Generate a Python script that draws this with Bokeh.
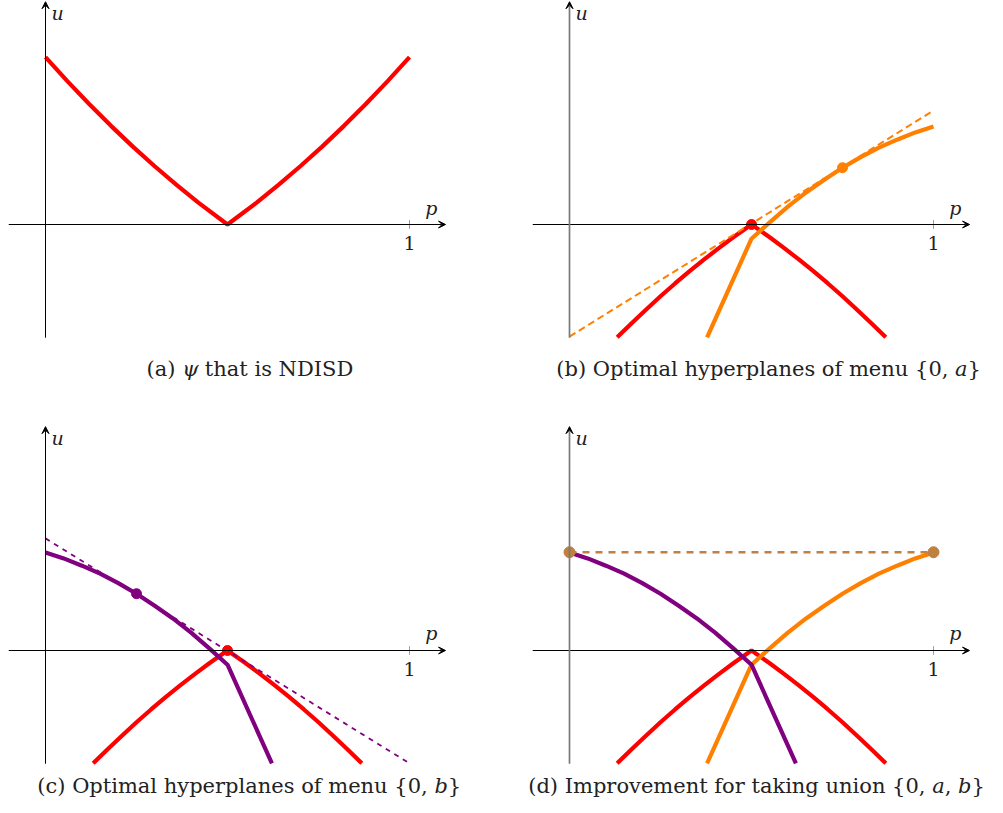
from bokeh.plotting import figure
from bokeh.models import Range1d, Arrow, VeeHead, Label
from bokeh.layouts import column, row
from bokeh.embed import file_html
from bokeh.resources import INLINE

# ---------------- data ----------------
psi_p = [0.0, 0.06, 0.12, 0.18, 0.24, 0.30, 0.36, 0.42, 0.5, 0.58, 0.64, 0.70, 0.76, 0.82, 0.88, 0.94, 1.0]
psi_u = [0.46, 0.394, 0.331, 0.271, 0.214, 0.160, 0.109, 0.060, 0.0, 0.060, 0.109, 0.160, 0.214, 0.271, 0.331, 0.394, 0.46]

red_p = [0.131, 0.17, 0.21, 0.25, 0.29, 0.33, 0.37, 0.41, 0.45, 0.5,
         0.55, 0.59, 0.63, 0.67, 0.71, 0.75, 0.79, 0.83, 0.869]
red_u = [-0.310, -0.272, -0.234, -0.197, -0.162, -0.128, -0.096, -0.065, -0.035, 0.0,
         -0.035, -0.065, -0.096, -0.128, -0.162, -0.197, -0.234, -0.272, -0.310]

orange_p = [0.378, 0.5, 0.55, 0.60, 0.65, 0.70, 0.75, 0.80, 0.85, 0.90, 0.95, 1.0]
orange_u = [-0.310, -0.039, 0.006, 0.049, 0.088, 0.123, 0.156, 0.185, 0.211, 0.233, 0.253, 0.269]

purple_p = [0.0, 0.05, 0.10, 0.15, 0.20, 0.25, 0.30, 0.35, 0.40, 0.45, 0.5, 0.622]
purple_u = [0.269, 0.253, 0.233, 0.211, 0.185, 0.156, 0.123, 0.088, 0.049, 0.006, -0.039, -0.310]

tangent_a_p = [0.0, 1.0]
tangent_a_u = [-0.308, 0.313]
tangent_b_p = [0.0, 1.0]
tangent_b_u = [0.308, -0.310]
union_p = [0.0, 1.0]
union_u = [0.27, 0.27]

red_dot = ([0.5], [0.0])
orange_dot = ([0.75], [0.156])
purple_dot = ([0.25], [0.156])

# caption pieces: (text, italic)
caption_a = [("(a)", False), ("\u03c8", True), ("that is NDISD", False)]
caption_b = [("(b) Optimal hyperplanes of menu {0,", False), ("a", True), ("}", False)]
caption_c = [("(c) Optimal hyperplanes of menu {0,", False), ("b", True), ("}", False)]
caption_d = [("(d) Improvement for taking union {0,", False), ("a", True), (",", False),
             ("b", True), ("}", False)]

# ---------------- styling ----------------
RED = "#ff0000"
ORANGE = "#ff8000"
PURPLE = "#800080"
BROWN = "#bf8040"
SERIF = "DejaVu Serif"
S = 364.0           # pixels per unit
X0 = -45.0 / S      # left edge of every panel (origin 45 px in)
LW = 4.2
CAP_PX = 21
# approximate advance widths (px) of the small caption pieces at CAP_PX
W = {"sp": 6.7, "a": 12.5, "b": 13.4, ",": 6.7, "}": 10.7, "\u03c8": 16.0}


def make_panel(width, height, top_px, ytop, uy, py):
    f = figure(width=width, height=height,
               x_range=Range1d(X0, X0 + width / S),
               y_range=Range1d((top_px - height) / S, top_px / S),
               output_backend="svg", toolbar_location=None,
               x_axis_type=None, y_axis_type=None, min_border=0)
    f.outline_line_color = None
    f.background_fill_color = "white"
    f.border_fill_color = "white"
    f._ytop = ytop
    f.add_layout(Label(x=0.033, y=uy, text="u", text_align="center", text_baseline="middle",
                       text_font=SERIF, text_font_style="italic", text_font_size="19px",
                       text_color="#222222"))
    f.add_layout(Label(x=1.06, y=py, text="p", text_align="center", text_baseline="middle",
                       text_font=SERIF, text_font_style="italic", text_font_size="19px",
                       text_color="#222222"))
    f.add_layout(Label(x=1.0, y=-0.052, text="1", text_align="center", text_baseline="middle",
                       text_font=SERIF, text_font_size="19px", text_color="#222222"))
    return f


def axes(f, gray_yaxis):
    ybot = -0.311
    f.add_layout(Arrow(x_start=-0.101, y_start=0, x_end=1.099, y_end=0,
                       line_width=1, line_color="black",
                       end=VeeHead(size=7, line_width=1, line_color="black", fill_color="black")))
    f.add_layout(Arrow(x_start=0, y_start=ybot, x_end=0, y_end=f._ytop,
                       line_width=1.7 if gray_yaxis else 1,
                       line_color="#7a7a7a" if gray_yaxis else "black",
                       end=VeeHead(size=7, line_width=1, line_color="black", fill_color="black")))
    f.segment(x0=[1.0], y0=[-0.012], x1=[1.0], y1=[0.012], line_color="#888888", line_width=0.8)


def caption(f, anchor_p, y, pieces):
    # first piece right-aligned at the anchor, the rest left-aligned after it
    off = 0.0
    for i, (txt, ital) in enumerate(pieces):
        if i == 0:
            align, xo = "right", 0.0
        else:
            if txt not in (",", "}"):
                off += W["sp"]
            align, xo = "left", off
            off += W.get(txt, 0.0)
        f.add_layout(Label(x=anchor_p, y=y, x_offset=xo, text=txt, text_align=align,
                           text_baseline="middle", text_font=SERIF,
                           text_font_style="italic" if ital else "normal",
                           text_font_size=f"{CAP_PX}px", text_color="#222222"))


# row 1: 425 px high, origin 224 px below its top; row 2: 372 px high, origin 225 px below its top
fa = make_panel(524, 425, 224, 0.612, 0.582, 0.044)
fb = make_panel(463, 425, 224, 0.612, 0.582, 0.044)
fc = make_panel(524, 372, 225, 0.615, 0.585, 0.047)
fd = make_panel(463, 372, 225, 0.615, 0.585, 0.047)

# (a) psi
axes(fa, False)
fa.line(psi_p, psi_u, line_color=RED, line_width=LW)

# (b) menu {0, a}
axes(fb, True)
fb.line(red_p, red_u, line_color=RED, line_width=LW)
fb.line(orange_p, orange_u, line_color=ORANGE, line_width=LW)
fb.line(tangent_a_p, tangent_a_u, line_color=ORANGE, line_width=2, line_dash="7 4")
fb.scatter(red_dot[0], red_dot[1], size=10, color=RED)
fb.scatter(orange_dot[0], orange_dot[1], size=10, color=ORANGE)

# (c) menu {0, b}
axes(fc, False)
fc.line(red_p, red_u, line_color=RED, line_width=LW)
fc.line(purple_p, purple_u, line_color=PURPLE, line_width=LW)
fc.line(tangent_b_p, tangent_b_u, line_color=PURPLE, line_width=1.8, line_dash="5 5")
fc.scatter(red_dot[0], red_dot[1], size=10, color=RED)
fc.scatter(purple_dot[0], purple_dot[1], size=10, color=PURPLE)

# (d) union {0, a, b}
axes(fd, True)
fd.line(red_p, red_u, line_color=RED, line_width=LW)
fd.line(orange_p, orange_u, line_color=ORANGE, line_width=LW)
fd.line(purple_p, purple_u, line_color=PURPLE, line_width=LW)
fd.line(union_p, union_u, line_color=BROWN, line_width=2.4, line_dash="7 6")
fd.scatter(union_p, union_u, size=11, color=BROWN)

# captions
caption(fa, 0.357, -0.398, caption_a)
caption(fb, 1.041, -0.398, caption_b)
caption(fc, 1.050, -0.371, caption_c)
caption(fd, 0.978, -0.371, caption_d)

layout = column(row(fa, fb), row(fc, fd))

open("out.html", "w").write(file_html(layout, INLINE))
